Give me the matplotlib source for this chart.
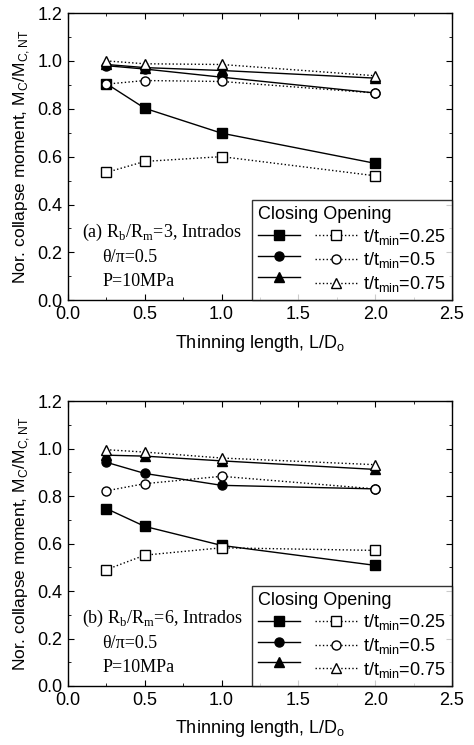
import matplotlib
matplotlib.use("Agg")
import matplotlib.pyplot as plt
from matplotlib.ticker import MultipleLocator

plt.rcParams['font.family'] = ['Liberation Sans', 'DejaVu Sans']
plt.rcParams['mathtext.fontset'] = 'custom'

L_over_D = [0.25, 0.5, 1.0, 2.0]
t_ratios = ["0.25", "0.5", "0.75"]

# Panel (a): Rb/Rm = 3
a_closing = {
    "0.25": [0.905, 0.802, 0.698, 0.572],
    "0.5": [0.980, 0.966, 0.932, 0.866],
    "0.75": [0.985, 0.972, 0.960, 0.928],
}
a_opening = {
    "0.25": [0.534, 0.580, 0.600, 0.520],
    "0.5": [0.903, 0.918, 0.914, 0.866],
    "0.75": [1.000, 0.988, 0.985, 0.938],
}
# Panel (b): Rb/Rm = 6
b_closing = {
    "0.25": [0.747, 0.672, 0.592, 0.508],
    "0.5": [0.942, 0.895, 0.845, 0.830],
    "0.75": [0.972, 0.968, 0.948, 0.912],
}
b_opening = {
    "0.25": [0.490, 0.551, 0.582, 0.571],
    "0.5": [0.822, 0.852, 0.883, 0.830],
    "0.75": [0.995, 0.985, 0.960, 0.932],
}

panels = [
    ("(a) R$_\\mathregular{b}$/R$_\\mathregular{m}$=3, Intrados", a_closing, a_opening),
    ("(b) R$_\\mathregular{b}$/R$_\\mathregular{m}$=6, Intrados", b_closing, b_opening),
]

markers = {"0.25": "s", "0.5": "o", "0.75": "^"}

fig = plt.figure(figsize=(4.74, 7.45), dpi=100)
ax_pos = [[0.1435, 0.597, 0.810, 0.3855], [0.1435, 0.0792, 0.810, 0.3825]]
serif = ['Liberation Serif', 'DejaVu Serif']

for pos, (title, closing, opening) in zip(ax_pos, panels):
    ax = fig.add_axes(pos)
    ch, oh = [], []
    for t in t_ratios:
        l1, = ax.plot(L_over_D, closing[t], '-', color='black', lw=1.0,
                      marker=markers[t], ms=6.5, mfc='black', mec='black', zorder=3)
        l2, = ax.plot(L_over_D, opening[t], ':', color='black', lw=1.0,
                      marker=markers[t], ms=6.5, mfc='white', mec='black', mew=1.0, zorder=4)
        ch.append(l1)
        oh.append(l2)
    ax.set_xlim(0, 2.5)
    ax.set_ylim(0, 1.2)
    ax.xaxis.set_major_locator(MultipleLocator(0.5))
    ax.xaxis.set_minor_locator(MultipleLocator(0.25))
    ax.yaxis.set_major_locator(MultipleLocator(0.2))
    ax.yaxis.set_minor_locator(MultipleLocator(0.1))
    ax.tick_params(which='both', direction='in', top=True, right=True, labelsize=13)
    ax.tick_params(which='major', length=4, pad=4)
    ax.tick_params(which='minor', length=2)
    ax.set_xlabel("Thinning length, L/D$_\\mathregular{o}$", fontsize=13, labelpad=7)
    ax.set_ylabel("Nor. collapse moment, M$_\\mathregular{C}$/M$_\\mathregular{C,NT}$",
                  fontsize=12.5, labelpad=4)
    for s in ax.spines.values():
        s.set_linewidth(1.0)

    ax.text(0.037, 0.237, title, transform=ax.transAxes, fontsize=13,
            family=serif, va='center', ha='left')
    ax.text(0.089, 0.15, "θ/π=0.5", transform=ax.transAxes, fontsize=13,
            family=serif, va='center', ha='left')
    ax.text(0.089, 0.066, "P=10MPa", transform=ax.transAxes, fontsize=13,
            family=serif, va='center', ha='left')

    handles = ch + oh
    labels = [""] * 3 + ["t/t$_\\mathregular{min}$=" + t for t in t_ratios]
    leg = ax.legend(handles, labels, ncol=2, loc='lower right',
                    title="Closing Opening", title_fontsize=13, fontsize=13,
                    frameon=True, fancybox=False, edgecolor='black',
                    handlelength=2.3, columnspacing=0.5, handletextpad=0.35,
                    labelspacing=0.2, borderaxespad=0.0, borderpad=0.35,
                    alignment='left', markerscale=1.0)
    leg.get_frame().set_linewidth(1.0)

fig.savefig("out.png", dpi=100)
